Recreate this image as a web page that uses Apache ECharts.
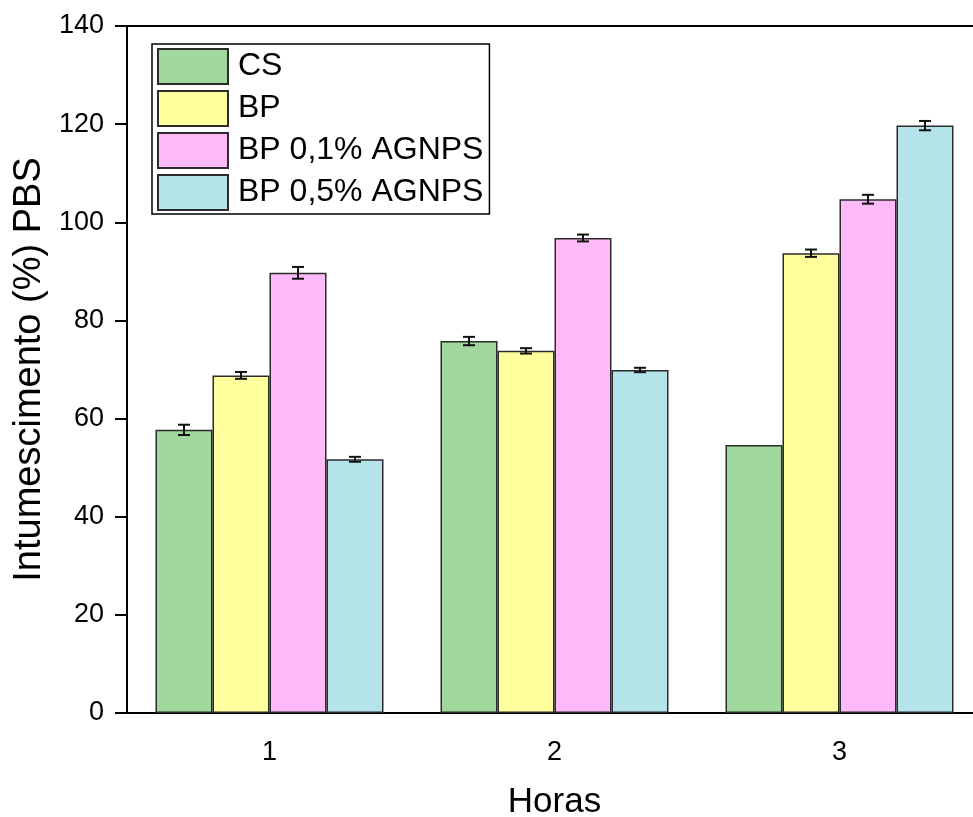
<!DOCTYPE html>
<html>
<head>
<meta charset="utf-8">
<script src="https://cdn.jsdelivr.net/npm/echarts@6/dist/echarts.min.js"></script>
<style>
  html, body { margin: 0; padding: 0; background: #fff; }
  #chart { width: 973px; height: 817px; }
</style>
</head>
<body>
<div id="chart"></div>
<script>
// dados
var horas = ['1', '2', '3'];
var seriesNames = ['CS', 'BP', 'BP 0,1% AGNPS', 'BP 0,5% AGNPS'];
var cs = [57.7, 75.8, 54.6];
var bp = [68.8, 73.8, 93.7];
var bp01 = [89.7, 96.8, 104.7];
var bp05 = [51.7, 69.9, 119.7];
var csErr = [1.05, 0.85, 0];
var bpErr = [0.7, 0.55, 0.75];
var bp01Err = [1.2, 0.7, 0.9];
var bp05Err = [0.5, 0.45, 0.95];
var colors = ['#a0d89e', '#ffff9e', '#fdb9f8', '#b4e3e9'];

var font = "Arial, 'Liberation Sans', sans-serif";
var chart = echarts.init(document.getElementById('chart'));

var values = [cs, bp, bp01, bp05];
var errors = [csErr, bpErr, bp01Err, bp05Err];

var series = [];
values.forEach(function (vals, i) {
    series.push({
        name: seriesNames[i],
        type: 'bar',
        data: vals,
        barGap: '0%',
        barCategoryGap: '20%',
        itemStyle: { color: colors[i], borderColor: '#2b2b2b', borderWidth: 1.5 }
    });
});
// barras de erro
values.forEach(function (vals, i) {
    series.push({
        name: 'err' + i,
        type: 'custom',
        data: vals.map(function (v, k) { return [k, v, errors[i][k]]; }),
        z: 5,
        renderItem: function (params, api) {
            var err = api.value(2);
            if (!err) return null;
            var band = api.size([1, 0])[0];
            var bw = band * 0.8 / 4;
            var top = api.coord([api.value(0), api.value(1) + err]);
            var bot = api.coord([api.value(0), api.value(1) - err]);
            var x = top[0] + (i - 1.5) * bw;
            var style = { stroke: '#111', lineWidth: 2 };
            return {
                type: 'group',
                children: [
                    { type: 'line', shape: { x1: x, y1: top[1], x2: x, y2: bot[1] }, style: style },
                    { type: 'line', shape: { x1: x - 6, y1: top[1], x2: x + 6, y2: top[1] }, style: style },
                    { type: 'line', shape: { x1: x - 6, y1: bot[1], x2: x + 6, y2: bot[1] }, style: style }
                ]
            };
        }
    });
});

var option = {
    animation: false,
    backgroundColor: '#fff',
    textStyle: { fontFamily: font },
    grid: { left: 127, top: 26, bottom: 104, right: -9, outerBoundsMode: 'none' },
    legend: {
        data: seriesNames,
        orient: 'vertical',
        left: 152,
        top: 44,
        itemWidth: 70,
        itemHeight: 35,
        itemGap: 5,
        padding: [4, 6, 3, 5],
        borderColor: '#000',
        borderWidth: 1.5,
        icon: 'rect',
        textStyle: { fontFamily: font, fontSize: 32, color: '#000', lineHeight: 35, padding: [0, 0, 0, 5] }
    },
    xAxis: [{
        type: 'category',
        data: horas,
        name: 'Horas',
        nameLocation: 'middle',
        nameGap: 72,
        nameTextStyle: { fontFamily: font, fontSize: 35, color: '#000' },
        axisLine: { lineStyle: { color: '#000', width: 2 } },
        axisTick: { alignWithLabel: true, length: 12, lineStyle: { width: 2 } },
        axisLabel: { fontFamily: font, fontSize: 27, color: '#000', margin: 26 }
    }, {
        type: 'category',
        data: horas,
        position: 'top',
        axisLine: { lineStyle: { color: '#000', width: 2 } },
        axisTick: { show: false },
        axisLabel: { show: false }
    }],
    yAxis: {
        type: 'value',
        min: 0,
        max: 140,
        interval: 20,
        name: 'Intumescimento (%) PBS',
        nameLocation: 'middle',
        nameGap: 77,
        nameTextStyle: { fontFamily: font, fontSize: 38, color: '#000' },
        splitLine: { show: false },
        axisLine: { show: true, lineStyle: { color: '#000', width: 2 } },
        axisTick: { show: true, length: 12, lineStyle: { width: 2 } },
        axisLabel: { fontFamily: font, fontSize: 27, color: '#000', margin: 23 }
    },
    series: series
};

chart.setOption(option);
</script>
</body>
</html>
